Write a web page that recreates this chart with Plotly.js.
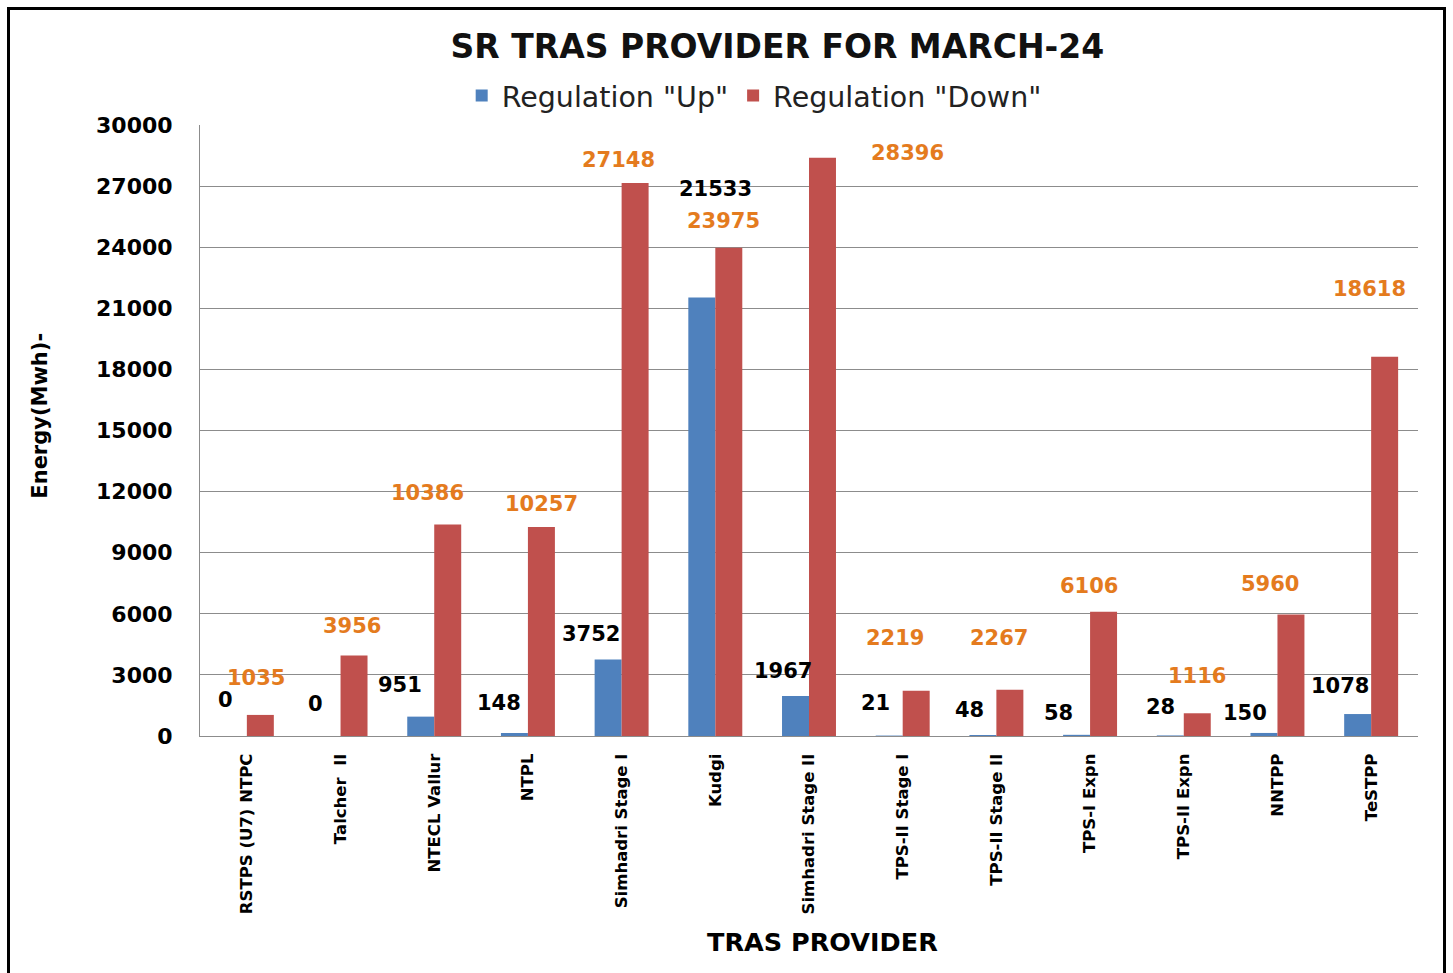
<!DOCTYPE html>
<html>
<head>
<meta charset="utf-8">
<script src="https://cdn.plot.ly/plotly-3.0.1.min.js"></script>
<style>
  html, body { margin: 0; padding: 0; background: #fff; }
  #chart { width: 1453px; height: 973px; }
  #frame { position: absolute; left: 7px; top: 7px; width: 1433px; height: 980px;
           border: 3px solid #000; pointer-events: none; }
</style>
</head>
<body>
<div id="chart"></div>
<div id="frame"></div>
<script>
// ---- data ----
const providers = ["RSTPS (U7) NTPC", "Talcher  II", "NTECL Vallur", "NTPL", "Simhadri Stage I",
  "Kudgi", "Simhadri Stage II", "TPS-II Stage I", "TPS-II Stage II", "TPS-I Expn",
  "TPS-II Expn", "NNTPP", "TeSTPP"];
const regulationUp   = [0, 0, 951, 148, 3752, 21533, 1967, 21, 48, 58, 28, 150, 1078];
const regulationDown = [1035, 3956, 10386, 10257, 27148, 23975, 28396, 2219, 2267, 6106, 1116, 5960, 18618];
const yTicks = [0, 3000, 6000, 9000, 12000, 15000, 18000, 21000, 24000, 27000, 30000];

// ---- label placement offsets (px, relative to bar top) ----
const upLabelDx   = [-8, -12, -21, -15, -17, 14, -13, -14, -13, -18, -10, -19, -18];
const upLabelDy   = [36, 32, 32, 30, 26, 108, 25, 33, 25, 22, 28, 20, 28];
const downLabelDx = [-4, -2, -20, 0, -17, -5, 85, -21, -11, -15, 0, -21, -15];
const downLabelDy = [37, 29, 31, 23, 23, 27, 5, 53, 52, 26, 37, 31, 68];

const FONT = "DejaVu Sans";
const BLUE = "#4F81BD", RED = "#C0504D", ORANGE = "#E47B1E", GRID = "#8C8C8C";
const BAR_OFFSET = 13.5;

const traces = [
  { type: "bar", name: 'Regulation "Up"', x: providers, y: regulationUp,
    marker: { color: BLUE }, hoverinfo: "x+y" },
  { type: "bar", name: 'Regulation "Down"', x: providers, y: regulationDown,
    marker: { color: RED }, hoverinfo: "x+y" }
];

const annotations = [];
providers.forEach((p, i) => {
  annotations.push({
    x: p, y: regulationUp[i], xref: "x", yref: "y",
    text: String(regulationUp[i]), showarrow: false,
    xshift: -BAR_OFFSET + upLabelDx[i], yshift: upLabelDy[i],
    xanchor: "center", yanchor: "middle",
    font: { family: FONT, size: 21, color: "#000", weight: "bold" }
  });
  annotations.push({
    x: p, y: regulationDown[i], xref: "x", yref: "y",
    text: String(regulationDown[i]), showarrow: false,
    xshift: BAR_OFFSET + downLabelDx[i], yshift: downLabelDy[i],
    xanchor: "center", yanchor: "middle",
    font: { family: FONT, size: 21, color: ORANGE, weight: "bold" }
  });
});
annotations.push({
  text: "TRAS PROVIDER", xref: "paper", yref: "paper", x: 0.511, y: -0.337,
  showarrow: false, xanchor: "center", yanchor: "middle",
  font: { family: FONT, size: 25.5, color: "#000", weight: "bold" }
});
annotations.push({
  text: "Energy(Mwh)-", xref: "paper", yref: "paper", x: -0.131, y: 0.525,
  textangle: -90, showarrow: false, xanchor: "center", yanchor: "middle",
  font: { family: FONT, size: 21, color: "#000", weight: "bold" }
});

const layout = {
  width: 1453, height: 973,
  margin: { l: 200, r: 35, t: 125, b: 237 },
  paper_bgcolor: "#fff", plot_bgcolor: "#fff",
  title: { text: "SR TRAS PROVIDER FOR MARCH-24", xref: "container", x: 0.535,
           y: 0.952, yanchor: "middle", xanchor: "center",
           font: { family: FONT, size: 33, color: "#111", weight: "bold" } },
  showlegend: true,
  legend: { orientation: "h", xref: "paper", yref: "paper", x: 0.455, y: 1.0475,
            xanchor: "center", yanchor: "middle", itemwidth: 30,
            font: { family: FONT, size: 28.5, color: "#222" }, bgcolor: "rgba(0,0,0,0)" },
  barmode: "group", bargap: 0.424, bargroupgap: 0,
  xaxis: {
    type: "category", tickangle: -90, showline: true, linecolor: GRID, linewidth: 1,
    ticks: "", showgrid: false, automargin: false, ticklabelstandoff: 10,
    tickfont: { family: FONT, size: 16.5, color: "#000", weight: "bold" }
  },
  yaxis: {
    range: [0, 30000], tickvals: yTicks, ticktext: yTicks.map(String),
    showline: true, linecolor: GRID, linewidth: 1, showgrid: true, gridcolor: GRID,
    gridwidth: 1, zeroline: false, ticks: "", ticklabelstandoff: 22, automargin: false,
    tickfont: { family: FONT, size: 22, color: "#000", weight: "bold" }
  },
  annotations: annotations
};

Plotly.newPlot("chart", traces, layout, { displayModeBar: false, staticPlot: true });
</script>
</body>
</html>
